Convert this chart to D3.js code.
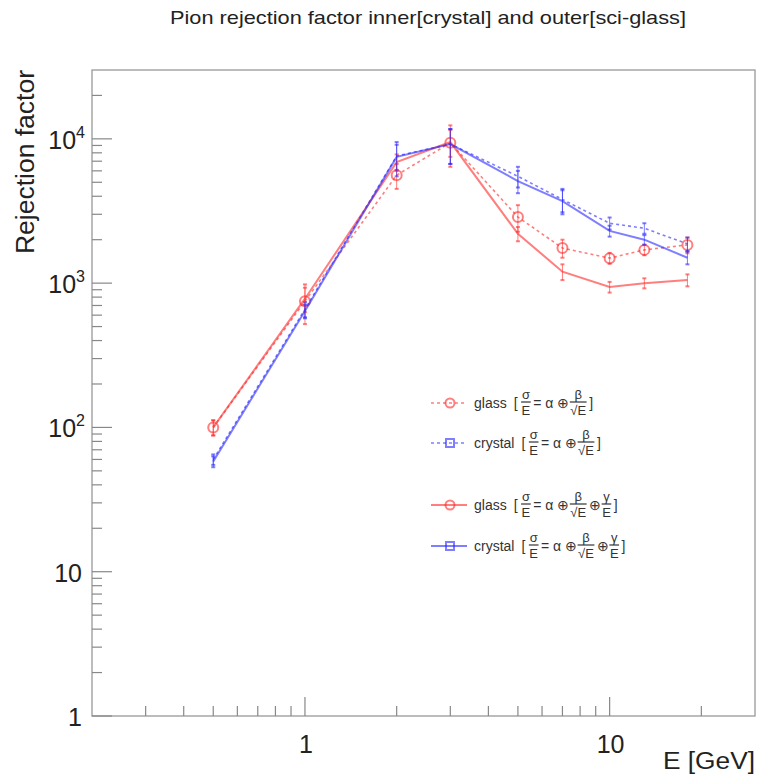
<!DOCTYPE html>
<html>
<head>
<meta charset="utf-8">
<script src="https://cdn.jsdelivr.net/npm/d3@7"></script>
<style>
  body { margin: 0; background: #fff; }
  svg { display: block; font-family: "Liberation Sans", Arial, sans-serif; }
</style>
</head>
<body>
<svg id="chart" width="761" height="778"></svg>
<script>
'use strict'

// energies [GeV]
const energies = [0.5, 1, 2, 3, 5, 7, 10, 13, 18]

// glass, alpha+beta fit (dotted)
const glassAB = [100, 750, 5600, 9400, 2870, 1750, 1490, 1700, 1840]
const glassABErr = [12, 230, 1100, 3000, 600, 250, 130, 140, 230]
// crystal, alpha+beta fit (dotted)
const crystalAB = [60, 660, 7600, 9200, 5500, 3800, 2600, 2400, 1870]
const crystalABErr = [5, 80, 1500, 2500, 900, 700, 250, 200, 200]
// glass, alpha+beta+gamma fit (solid)
const glassABG = [100, 780, 6900, 9500, 2200, 1200, 940, 1000, 1050]
const glassABGErr = [12, 150, 900, 2000, 250, 150, 80, 80, 100]
// crystal, alpha+beta+gamma fit (solid)
const crystalABG = [58, 640, 7500, 9200, 5100, 3700, 2300, 2000, 1500]
const crystalABGErr = [5, 70, 2000, 2500, 900, 700, 200, 150, 150]

const xMajor = [1, 10]
const yMajor = [1, 10, 100, 1000, 10000]
const yLabels = [['1', ''], ['10', ''], ['10', '2'], ['10', '3'], ['10', '4']]

const RED = 'rgba(255,40,40,0.6)'
const BLUE = 'rgba(40,40,255,0.6)'

const series = [
  { name: 'glass', vals: glassAB, errs: glassABErr, color: RED, dash: '3,3', marker: 'circle', gamma: false },
  { name: 'crystal', vals: crystalAB, errs: crystalABErr, color: BLUE, dash: '3,3', marker: 'square', gamma: false },
  { name: 'glass', vals: glassABG, errs: glassABGErr, color: RED, dash: null, marker: 'circle', gamma: true },
  { name: 'crystal', vals: crystalABG, errs: crystalABGErr, color: BLUE, dash: null, marker: 'square', gamma: true }
]

// frame
const L = 92, R = 755, T = 70, B = 716
const svg = d3.select('#chart')

const x = d3.scaleLog().domain([0.2, 30]).range([L, R])
const y = d3.scaleLog().domain([1, 30000]).range([B, T])

// title
svg.append('text').attr('x', 428).attr('y', 24).attr('text-anchor', 'middle')
  .attr('font-size', 19).attr('fill', '#222')
  .attr('textLength', 516).attr('lengthAdjust', 'spacingAndGlyphs')
  .text('Pion rejection factor inner[crystal] and outer[sci-glass]')

// frame box
svg.append('rect').attr('x', L).attr('y', T).attr('width', R - L).attr('height', B - T)
  .attr('fill', 'none').attr('stroke', '#999').attr('stroke-width', 1.3)

// x ticks
const xMinor = []
for (const d of [0.1, 1, 10]) for (let k = 2; k <= 9; k++) {
  const v = d * k
  if (v > 0.2 && v < 30) xMinor.push(v)
}
const gx = svg.append('g').attr('stroke', '#888').attr('stroke-width', 1.2)
gx.selectAll('line.mn').data(xMinor).join('line')
  .attr('x1', d => x(d)).attr('x2', d => x(d)).attr('y1', B).attr('y2', B - 10)
gx.selectAll('line.mj').data(xMajor).join('line')
  .attr('x1', d => x(d)).attr('x2', d => x(d)).attr('y1', B).attr('y2', B - 19)
svg.selectAll('text.xl').data(xMajor).join('text')
  .attr('x', d => x(d) + 1).attr('y', 753).attr('text-anchor', 'middle')
  .attr('font-size', 25).attr('fill', '#222').text(d => d)
svg.append('text').attr('x', 755).attr('y', 769).attr('text-anchor', 'end')
  .attr('font-size', 23).attr('fill', '#222')
  .attr('textLength', 92).attr('lengthAdjust', 'spacingAndGlyphs').text('E [GeV]')

// y ticks
const yMinor = []
for (const d of [1, 10, 100, 1000, 10000]) for (let k = 2; k <= 9; k++) {
  const v = d * k
  if (v < 30000) yMinor.push(v)
}
const gy = svg.append('g').attr('stroke', '#888').attr('stroke-width', 1.2)
gy.selectAll('line.mn').data(yMinor).join('line')
  .attr('x1', L).attr('x2', L + 10).attr('y1', d => y(d)).attr('y2', d => y(d))
gy.selectAll('line.mj').data(yMajor).join('line')
  .attr('x1', L).attr('x2', L + 20).attr('y1', d => y(d)).attr('y2', d => y(d))
yMajor.forEach((v, i) => {
  const sup = yLabels[i][1]
  const t = svg.append('text').attr('y', y(v) + 10).attr('font-size', 25).attr('fill', '#222')
    .attr('text-anchor', 'end').attr('x', sup ? 85 : 82)
  t.append('tspan').text(yLabels[i][0])
  if (sup) t.append('tspan').attr('font-size', 16).attr('dy', -11).text(sup)
})
svg.append('text').attr('transform', 'translate(34,70) rotate(-90)').attr('text-anchor', 'end')
  .attr('font-size', 25).attr('fill', '#222')
  .attr('textLength', 184).attr('lengthAdjust', 'spacingAndGlyphs').text('Rejection factor')

// data
const line = d3.line().x(d => x(d[0])).y(d => y(d[1]))
const plot = svg.append('g')

function drawMarker(g, type, cx, cy, color, r) {
  if (type === 'circle') {
    g.append('circle').attr('cx', cx).attr('cy', cy).attr('r', r)
      .attr('fill', 'none').attr('stroke', color).attr('stroke-width', 2)
  } else {
    g.append('rect').attr('x', cx - r).attr('y', cy - r).attr('width', 2 * r).attr('height', 2 * r)
      .attr('fill', 'none').attr('stroke', color).attr('stroke-width', 2)
  }
}

series.forEach(s => {
  const pts = energies.map((e, i) => [e, s.vals[i], s.errs[i]])
  const g = plot.append('g')
  g.append('path').datum(pts).attr('d', line).attr('fill', 'none')
    .attr('stroke', s.color).attr('stroke-width', s.dash ? 1.6 : 2)
    .attr('stroke-dasharray', s.dash)
  pts.forEach(p => {
    const cx = x(p[0]), y1 = y(p[1] + p[2]), y2 = y(p[1] - p[2])
    g.append('line').attr('x1', cx).attr('x2', cx).attr('y1', y1).attr('y2', y2)
      .attr('stroke', s.color).attr('stroke-width', 1)
    for (const yy of [y1, y2]) {
      g.append('line').attr('x1', cx - 2).attr('x2', cx + 2).attr('y1', yy).attr('y2', yy)
        .attr('stroke', s.color).attr('stroke-width', 2)
    }
    if (s.dash && s.marker === 'circle') drawMarker(g, 'circle', cx, y(p[1]), s.color, 5)
  })
})

// legend
const legRows = [403, 443, 505, 546]
const leg = svg.append('g').attr('fill', '#333')

function frac(g, xx, yy, top, bot) {
  const f = g.append('g')
  const a = f.append('text').attr('y', yy - 4).attr('font-size', 13).attr('text-anchor', 'middle').text(top)
  const b = f.append('text').attr('y', yy + 12).attr('font-size', 13).attr('text-anchor', 'middle').text(bot)
  const w = Math.max(a.node().getComputedTextLength(), b.node().getComputedTextLength())
  a.attr('x', xx + w / 2); b.attr('x', xx + w / 2)
  f.append('line').attr('x1', xx - 0.5).attr('x2', xx + w + 0.5).attr('y1', yy - 1).attr('y2', yy - 1)
    .attr('stroke', '#333').attr('stroke-width', 1.2)
  return xx + w
}
function word(g, xx, yy, s, fs) {
  const t = g.append('text').attr('x', xx).attr('y', yy + 5).attr('font-size', fs || 14).text(s)
  return xx + t.node().getComputedTextLength()
}

series.forEach((s, i) => {
  const yy = legRows[i]
  leg.append('line').attr('x1', 431).attr('x2', 467).attr('y1', yy).attr('y2', yy)
    .attr('stroke', s.color).attr('stroke-width', s.dash ? 1.6 : 2).attr('stroke-dasharray', s.dash)
  drawMarker(leg, s.marker, 450, yy, s.color, s.marker === 'circle' ? 4.5 : 4)
  let xx = word(leg, 474, yy, s.name)
  xx = word(leg, xx + 7, yy, '[')
  xx = frac(leg, xx + 4, yy, 'σ', 'E')
  xx = word(leg, xx + 3, yy, '= α ⊕ ')
  xx = frac(leg, xx + 1, yy, 'β', '√E')
  if (s.gamma) {
    xx = word(leg, xx + 3, yy, '⊕ ')
    xx = frac(leg, xx + 1, yy, 'γ', 'E')
  }
  word(leg, xx + 3, yy, ']')
})
</script>
</body>
</html>
